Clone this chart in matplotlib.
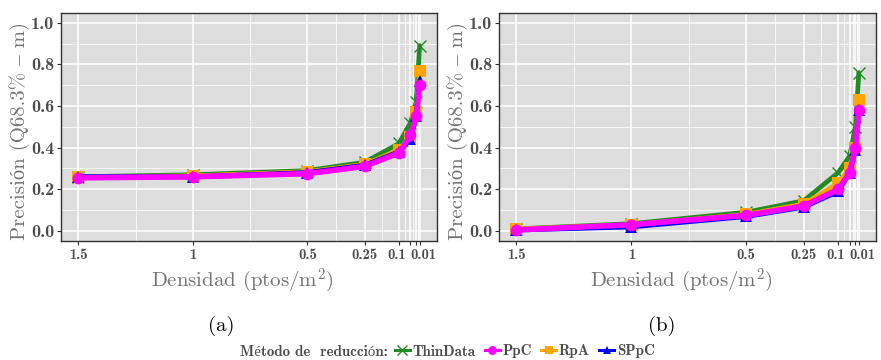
import matplotlib
matplotlib.use('Agg')
import matplotlib.pyplot as plt
from matplotlib.lines import Line2D
from matplotlib.ticker import FixedLocator
from matplotlib.transforms import ScaledTranslation

# ---------------- data ----------------
density = [1.5, 1, 0.5, 0.25, 0.1, 0.05, 0.025, 0.01]
x_breaks = [1.5, 1, 0.5, 0.25, 0.1, 0.05, 0.025, 0.01]
x_labels = ['1.5', '1', '0.5', '0.25', '0.1', '', '', '0.01']
x_minor = [1.25, 0.75, 0.375, 0.175, 0.075, 0.0375, 0.0175]
y_breaks = [0.0, 0.2, 0.4, 0.6, 0.8, 1.0]
y_labels = ['0.0', '0.2', '0.4', '0.6', '0.8', '1.0']
y_minor = [0.1, 0.3, 0.5, 0.7, 0.9]

methods = ['ThinData', 'PpC', 'RpA', 'SPpC']

a_thindata = [0.26, 0.27, 0.29, 0.33, 0.42, 0.52, 0.62, 0.89]
a_ppc      = [0.255, 0.26, 0.275, 0.31, 0.375, 0.46, 0.55, 0.70]
a_rpa      = [0.26, 0.265, 0.285, 0.32, 0.39, 0.45, 0.57, 0.77]
a_sppc     = [0.26, 0.26, 0.28, 0.315, 0.38, 0.44, 0.55, 0.72]

b_thindata = [0.01, 0.035, 0.09, 0.145, 0.28, 0.36, 0.50, 0.76]
b_ppc      = [0.005, 0.03, 0.075, 0.12, 0.20, 0.28, 0.40, 0.58]
b_rpa      = [0.01, 0.03, 0.08, 0.13, 0.23, 0.30, 0.40, 0.63]
b_sppc     = [0.005, 0.02, 0.07, 0.115, 0.19, 0.28, 0.39, 0.58]

panel_labels = ['(a)', '(b)']
x_title = 'Densidad (ptos/m$^2$)'
y_title = 'Precisión (Q68.3% – m)'
legend_title = 'Método de  reducción:'

# ---------------- style ----------------
plt.rcParams['mathtext.fontset'] = 'cm'
SERIF = ['cmr10', 'Liberation Serif']
SERIF_B = ['cmb10', 'Liberation Serif']

styles = {
    'ThinData': dict(color='#228B22', marker='x', ms=9, mew=1.0, lw=3.4, z=2),
    'RpA':      dict(color='#FFA500', marker='s', ms=8, mew=0, lw=3.2, z=3),
    'SPpC':     dict(color='#0000FF', marker='^', ms=8, mew=0, lw=3.6, z=4),
    'PpC':      dict(color='#FF00FF', marker='o', ms=8.5, mew=0, lw=4.0, z=5),
}

W, H = 881, 360
fig = plt.figure(figsize=(W / 100, H / 100), dpi=100)
positions = [[0.0696, 0.3306, 0.4261, 0.6342], [0.5667, 0.3306, 0.4276, 0.6342]]
panel_label_x = [221 / W, 662 / W]
panels = [
    {'ThinData': a_thindata, 'PpC': a_ppc, 'RpA': a_rpa, 'SPpC': a_sppc},
    {'ThinData': b_thindata, 'PpC': b_ppc, 'RpA': b_rpa, 'SPpC': b_sppc},
]

tick_col = '#4D4D4D'
title_col = '#737373'

for i, (pos, data) in enumerate(zip(positions, panels)):
    ax = fig.add_axes(pos)
    ax.set_facecolor('#DDDDDD')
    for m in ['ThinData', 'RpA', 'SPpC', 'PpC']:
        s = styles[m]
        ax.plot(density, data[m], color=s['color'], lw=s['lw'], zorder=s['z'],
                solid_joinstyle='round', solid_capstyle='round')
        ax.plot(density, data[m], ls='none', marker=s['marker'], ms=s['ms'],
                mew=s['mew'], color=s['color'], zorder=s['z'] + 0.5)
    ax.set_xlim(1.5745, -0.0645)
    ax.set_ylim(-0.048, 1.048)
    ax.set_xticks(x_breaks)
    ax.set_xticklabels(x_labels)
    ax.xaxis.set_minor_locator(FixedLocator(x_minor))
    ax.set_yticks(y_breaks)
    ax.set_yticklabels(y_labels)
    ax.yaxis.set_minor_locator(FixedLocator(y_minor))
    ax.grid(which='major', color='white', lw=1.1, zorder=0)
    ax.grid(which='minor', color='white', lw=0.55, zorder=0)
    ax.set_axisbelow(True)
    ax.tick_params(which='minor', length=0)
    ax.tick_params(which='major', length=3, width=0.8, color='#333333', pad=2)
    for lab in ax.get_xticklabels():
        lab.set_family(SERIF_B); lab.set_fontsize(10.5); lab.set_color(tick_col)
        if lab.get_text() == '0.1':
            lab.set_transform(lab.get_transform() + ScaledTranslation(-2 / 72, 0, fig.dpi_scale_trans))
        if lab.get_text() == '0.01':
            lab.set_transform(lab.get_transform() + ScaledTranslation(2.5 / 72, 0, fig.dpi_scale_trans))
    for lab in ax.get_yticklabels():
        lab.set_family(SERIF_B); lab.set_fontsize(13); lab.set_color(tick_col)
    for sp in ax.spines.values():
        sp.set_color('#333333'); sp.set_linewidth(1.0)
    ax.set_xlabel(x_title, family=SERIF, fontsize=15, color=title_col)
    ax.xaxis.set_label_coords(0.483, -0.112)
    ax.set_ylabel(y_title, family=SERIF, fontsize=15, color=title_col, labelpad=1)
    ax.yaxis.label.set_y(0.48)
    fig.text(panel_label_x[i], 0.095, panel_labels[i], family=SERIF,
             fontsize=15, color='black', ha='center', va='center')

# ---------------- legend ----------------
fig.text(240 / W, 8.5 / H, legend_title, family=SERIF_B, fontsize=10.8,
         color=tick_col, ha='left', va='center')
handles = []
for m in methods:
    s = styles[m]
    handles.append(Line2D([0], [0], color=s['color'], lw=2.2, marker=s['marker'],
                          ms=s['ms'] * 0.75, mew=s['mew']))
leg = fig.legend(handles, methods, loc='center left', bbox_to_anchor=(381 / W, 8.5 / H),
                 ncol=4, frameon=False, handlelength=1.0, handletextpad=0.2,
                 columnspacing=0.6, prop={'family': SERIF_B, 'size': 10.8})
for t in leg.get_texts():
    t.set_color(tick_col)

fig.savefig('out.png', dpi=100)
